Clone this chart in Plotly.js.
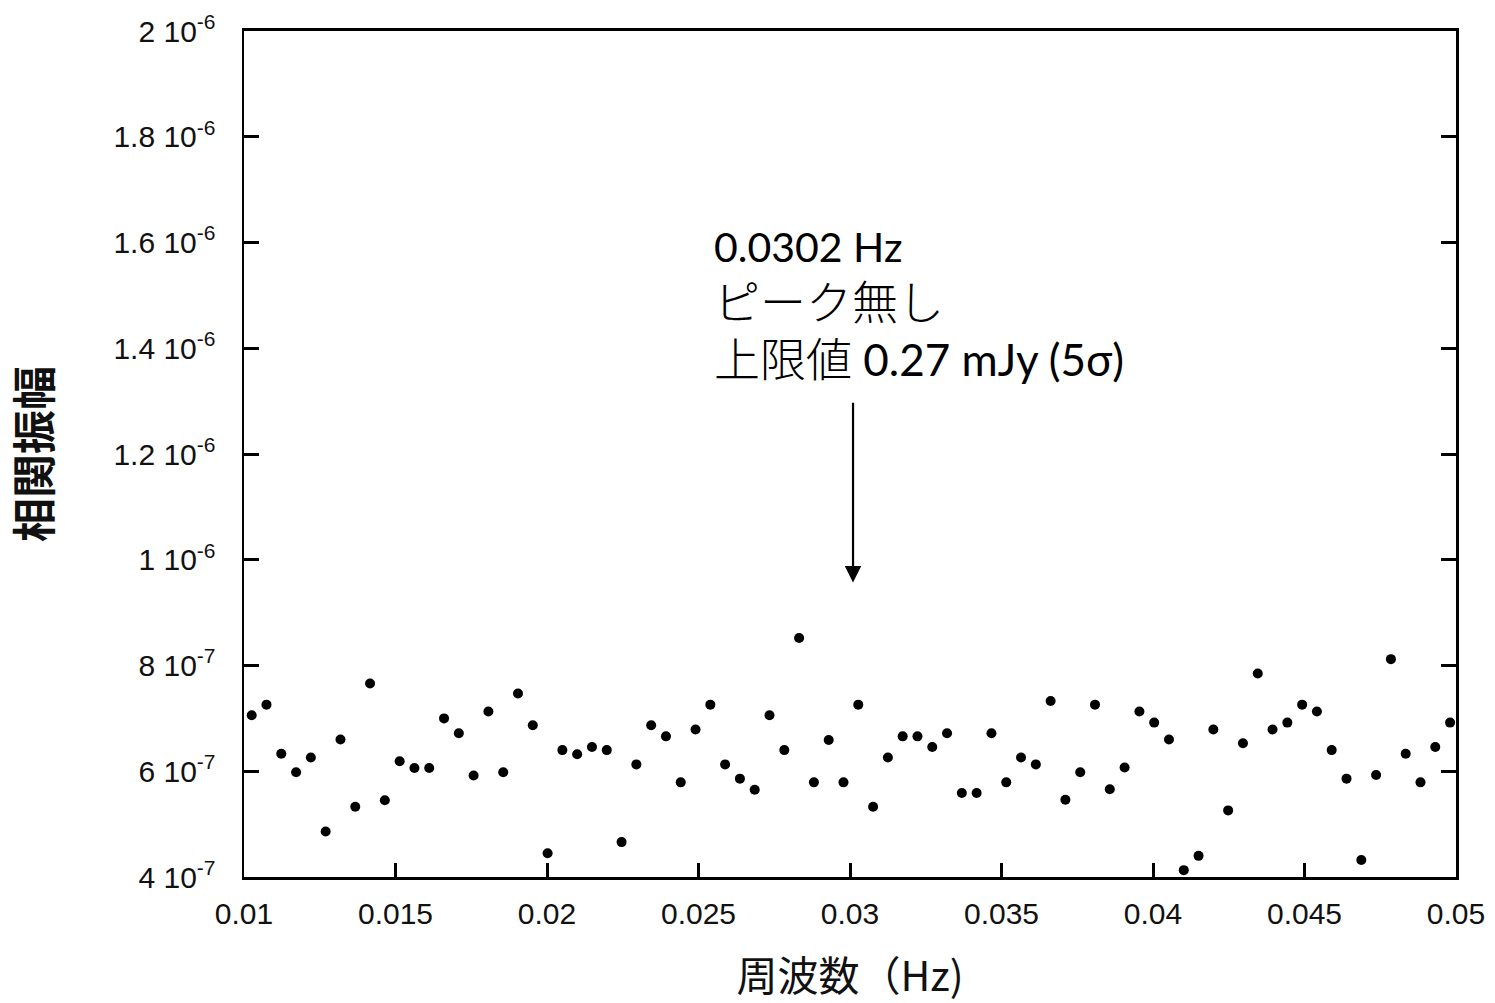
<!DOCTYPE html>
<html>
<head>
<meta charset="utf-8">
<script src="https://cdn.plot.ly/plotly-3.0.1.min.js"></script>
<style>html,body{margin:0;padding:0;background:#fff;}</style>
</head>
<body>
<div id="chart" style="width:1495px;height:1003px;"></div>
<script>
// Frequencies (Hz)
const freq = [
  0.010254,0.010742,0.011230,0.011719,0.012207,0.012695,0.013184,0.013672,0.014160,0.014648,
  0.015137,0.015625,0.016113,0.016602,0.017090,0.017578,0.018066,0.018555,0.019043,0.019531,
  0.020020,0.020508,0.020996,0.021484,0.021973,0.022461,0.022949,0.023438,0.023926,0.024414,
  0.024902,0.025391,0.025879,0.026367,0.026855,0.027344,0.027832,0.028320,0.028809,0.029297,
  0.029785,0.030273,0.030762,0.031250,0.031738,0.032227,0.032715,0.033203,0.033691,0.034180,
  0.034668,0.035156,0.035645,0.036133,0.036621,0.037109,0.037598,0.038086,0.038574,0.039063,
  0.039551,0.040039,0.040527,0.041016,0.041504,0.041992,0.042480,0.042969,0.043457,0.043945,
  0.044434,0.044922,0.045410,0.045898,0.046387,0.046875,0.047363,0.047852,0.048340,0.048828,
  0.049316,0.049805
];
// Correlation amplitude
const amplitude = [
  7.06e-7,7.26e-7,6.33e-7,5.98e-7,6.26e-7,4.86e-7,6.60e-7,5.33e-7,7.66e-7,5.45e-7,
  6.19e-7,6.06e-7,6.06e-7,7.00e-7,6.72e-7,5.92e-7,7.13e-7,5.98e-7,7.47e-7,6.87e-7,
  4.45e-7,6.40e-7,6.32e-7,6.46e-7,6.40e-7,4.66e-7,6.13e-7,6.87e-7,6.66e-7,5.79e-7,
  6.79e-7,7.26e-7,6.13e-7,5.86e-7,5.65e-7,7.06e-7,6.40e-7,8.52e-7,5.79e-7,6.59e-7,
  5.79e-7,7.26e-7,5.33e-7,6.26e-7,6.66e-7,6.66e-7,6.46e-7,6.72e-7,5.59e-7,5.59e-7,
  6.72e-7,5.79e-7,6.26e-7,6.13e-7,7.33e-7,5.46e-7,5.98e-7,7.26e-7,5.66e-7,6.07e-7,
  7.13e-7,6.92e-7,6.60e-7,4.13e-7,4.40e-7,6.79e-7,5.26e-7,6.53e-7,7.85e-7,6.79e-7,
  6.92e-7,7.26e-7,7.13e-7,6.40e-7,5.86e-7,4.32e-7,5.93e-7,8.12e-7,6.33e-7,5.79e-7,
  6.46e-7,6.92e-7
];

const xTickVals = [0.01,0.015,0.02,0.025,0.03,0.035,0.04,0.045,0.05];
const xTickText = ["0.01","0.015","0.02","0.025","0.03","0.035","0.04","0.045","0.05"];
const yTickVals = [4e-7,6e-7,8e-7,1e-6,1.2e-6,1.4e-6,1.6e-6,1.8e-6,2e-6];
const yTickText = ["4 10<sup>-7</sup>","6 10<sup>-7</sup>","8 10<sup>-7</sup>","1 10<sup>-6</sup>",
  "1.2 10<sup>-6</sup>","1.4 10<sup>-6</sup>","1.6 10<sup>-6</sup>","1.8 10<sup>-6</sup>","2 10<sup>-6</sup>"];

// Annotation (arrow to the searched frequency)
const arrowX = 0.0301;
const arrowTipY = 9.57e-7;
const arrowTailY = 1.3e-6;
const noteLines = ["0.0302 Hz", "ピーク無し", "上限値", " 0.27 mJy (5σ)"];

const lat1 = 'font-family:Lato,"Noto Sans CJK JP";font-size:41px';
const lat3 = 'font-family:Lato,"Noto Sans CJK JP";font-size:44px';
const jp = 'font-family:"Noto Sans CJK JP";font-size:46px;font-weight:300';
const noteText =
  '<span style=\'' + lat1 + '\'>' + noteLines[0] + '</span><br>' +
  '<span style=\'' + jp + '\'>' + noteLines[1] + '</span><br>' +
  '<span style=\'' + jp + '\'>' + noteLines[2] + '</span>' +
  '<span style=\'' + lat3 + '\'>' + noteLines[3] + '</span>';

const trace = {
  x: freq, y: amplitude, type: 'scatter', mode: 'markers',
  marker: {color: '#000', size: 10, line: {width: 0}},
  hoverinfo: 'x+y'
};

const tickFont = {family: '"Liberation Sans", Arial, sans-serif', size: 30, color: '#111'};

const layout = {
  width: 1495, height: 1003,
  margin: {l: 244, r: 39, t: 31, b: 126, pad: 0},
  paper_bgcolor: '#fff', plot_bgcolor: '#fff',
  showlegend: false,
  xaxis: {
    range: [0.01, 0.05], tickvals: xTickVals, ticktext: xTickText,
    ticks: 'inside', ticklen: 14, tickwidth: 3, tickcolor: '#000',
    showline: true, linewidth: 3, linecolor: '#000', mirror: true,
    showgrid: false, zeroline: false, tickfont: tickFont,
    ticklabelstandoff: 8,
    title: {text: '周波数（Hz)', font: {family: '"Noto Sans CJK JP"', size: 41, color: '#111'}, standoff: 45}
  },
  yaxis: {
    range: [4e-7, 2e-6], tickvals: yTickVals, ticktext: yTickText,
    ticks: 'inside', ticklen: 15, tickwidth: 3, tickcolor: '#000',
    showline: true, linewidth: 2.5, linecolor: '#000', mirror: 'ticks',
    showgrid: false, zeroline: false, tickfont: tickFont,
    ticklabelstandoff: 20,
    title: {text: '相関振幅', font: {family: '"Noto Sans CJK JP"', size: 44, color: '#111', weight: 'bold'}, standoff: 52}
  },
  annotations: [
    {
      x: arrowX, y: arrowTipY, xref: 'x', yref: 'y',
      ax: arrowX, ay: arrowTailY, axref: 'x', ayref: 'y',
      text: '', showarrow: true, arrowhead: 2, arrowsize: 1.5, arrowwidth: 2.2, arrowcolor: '#000'
    },
    {
      x: (712 - 244) / 1212, y: (877 - 220) / 846, xref: 'paper', yref: 'paper',
      xanchor: 'left', yanchor: 'top', align: 'left', showarrow: false,
      text: noteText,
      font: {family: 'Lato, "Noto Sans CJK JP"', size: 44, color: '#000'}
    }
  ]
};

Plotly.newPlot('chart', [trace], layout, {staticPlot: true, displayModeBar: false});
</script>
</body>
</html>
